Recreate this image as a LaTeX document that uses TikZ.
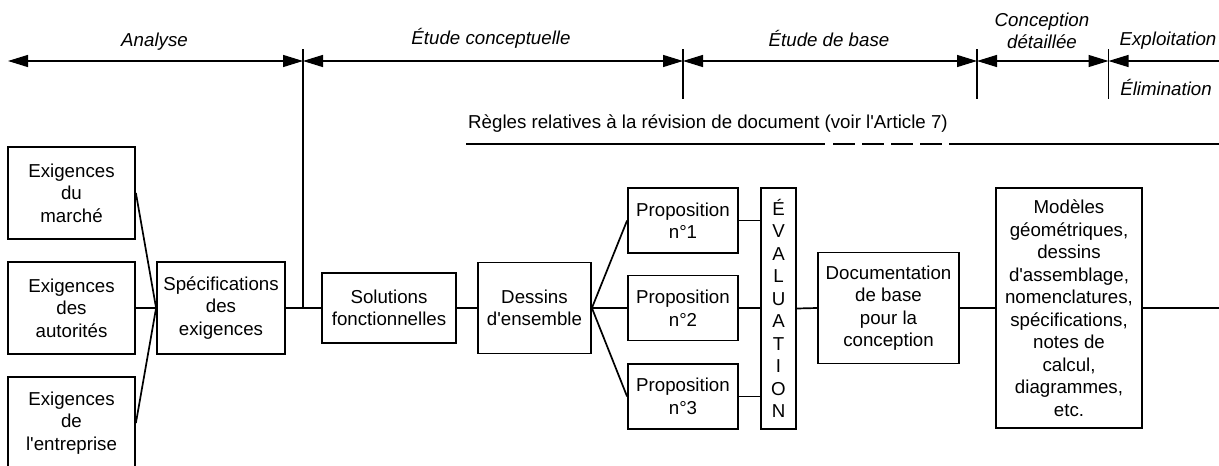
\documentclass[tikz,border=0pt]{standalone}
\usepackage{fontspec}
\setmainfont{Liberation Sans}[Ligatures=TeXOff]
\usetikzlibrary{arrows.meta}
\newcommand\dfont{\fontsize{18.7}{22.5}\selectfont}
\begin{document}
\begin{tikzpicture}[x=1pt,y=-1pt,
  box/.style={draw, line width=1.8pt, inner sep=0pt, align=center, font=\dfont},
  conn/.style={line width=1.7pt},
  tl/.style={line width=1.3pt},
  tk/.style={line width=1.4pt},
  lab/.style={font=\dfont\itshape, inner sep=0pt, align=center, anchor=base},
  tri/.tip={Triangle[length=20pt,width=12pt]},
  revline/.style={line width=1.9pt}]
\useasboundingbox (0,0) rectangle (1219,466);

% timeline
\coordinate (a0) at (8,61);
\coordinate (t1) at (303,61);
\coordinate (t2) at (683,61);
\coordinate (t3) at (977,61);
\coordinate (t4) at (1108.5,61);
\coordinate (a5) at (1219,61);
\coordinate (t1top) at (303,49);
\coordinate (t2top) at (683,49);
\coordinate (t3top) at (977,49);
\coordinate (t4top) at (1108.5,49);
\coordinate (t2bot) at (683,99);
\coordinate (t3bot) at (977,99);
\coordinate (t4bot) at (1108.5,99);

\draw[tl, tri-tri] (a0) -- (t1);
\draw[tl, tri-tri] (t1) -- (t2);
\draw[tl, tri-tri] (t2) -- (t3);
\draw[tl, tri-tri] (t3) -- (t4);
\draw[tl, tri-] (t4) -- (a5);
\draw[tk] (t2top) -- (t2bot);
\draw[tk] (t3top) -- (t3bot);
\draw[tk] (t4top) -- (t4bot);

\node[lab] (lAn) at (154.5,46) {Analyse};
\node[lab] (lEc) at (491,44) {Étude conceptuelle};
\node[lab] (lEb) at (829,46.5) {Étude de base};
\node[lab] (lCo) at (1042,26.5) {Conception};
\node[lab] (lDe) at (1042,48) {détaillée};
\node[lab] (lEx) at (1168,45.5) {Exploitation};
\node[lab] (lEl) at (1166,95) {Élimination};

% revision rules
\node[font=\dfont, inner sep=0pt, anchor=base west] (rev) at (468,128) {Règles relatives à la révision de document (voir l'Article 7)};
\coordinate (r0) at (466,144);
\coordinate (r1) at (825,144);
\coordinate (r2) at (833,144);
\coordinate (r3) at (942,144);
\coordinate (r4) at (949,144);
\coordinate (r5) at (1219,144);
\draw[revline] (r0) -- (r1);
\draw[revline, dash pattern=on 22pt off 7pt] (r2) -- (r3);
\draw[revline] (r4) -- (r5);

% boxes
\node[box, minimum width=127pt, minimum height=92pt] (em) at (71.5,193) {Exigences\\du\\marché};
\node[box, minimum width=127pt, minimum height=92pt] (ea) at (71.5,308) {Exigences\\des\\autorités};
\node[box, minimum width=127pt, minimum height=92pt] (ee) at (71.5,423) {Exigences\\de\\l'entreprise};
\node[box, minimum width=128pt, minimum height=92pt] (spec) at (221,308) {Spécifications\\des\\exigences};
\node[box, minimum width=134pt, minimum height=70pt] (sol) at (389,308) {Solutions\\fonctionnelles};
\node[box, minimum width=113pt, minimum height=91pt] (des) at (534.5,308) {Dessins\\d'ensemble};
\node[box, minimum width=110pt, minimum height=65pt] (p1) at (683,220.5) {Proposition\\n°1};
\node[box, minimum width=110pt, minimum height=65pt] (p2) at (683,308) {Proposition\\n°2};
\node[box, minimum width=110pt, minimum height=65pt] (p3) at (683,396.5) {Proposition\\n°3};
\node[box, minimum width=35pt, minimum height=241pt] (ev) at (778.5,308.5) {É\\V\\A\\L\\U\\A\\T\\I\\O\\N};
\node[box, minimum width=141pt, minimum height=111pt] (doc) at (888.5,308) {Documentation\\de base\\pour la\\conception};
\node[box, minimum width=146pt, minimum height=240pt] (mod) at (1069,308) {Modèles\\géométriques,\\dessins\\d'assemblage,\\nomenclatures,\\spécifications,\\notes de\\calcul,\\diagrammes,\\etc.};
\coordinate (end) at (1219,308);

% connectors
\draw[conn] (em.east) -- (spec.west);
\draw[conn] (ea.east) -- (spec.west);
\draw[conn] (ee.east) -- (spec.west);
\draw[conn] (spec.east) -- (sol.west);
\draw[tk] (t1top) -- (t1top |- spec.east);
\draw[conn] (sol.east) -- (des.west);
\draw[conn] (des.east) -- (p1.west);
\draw[conn] (des.east) -- (p2.west);
\draw[conn] (des.east) -- (p3.west);
\draw[conn] (p1.east) -- (p1.east -| ev.west);
\draw[conn] (p2.east) -- (p2.east -| ev.west);
\draw[conn] (p3.east) -- (p3.east -| ev.west);
\draw[conn] (ev.east) -- (doc.west);
\draw[conn] (doc.east) -- (mod.west);
\draw[conn] (mod.east) -- (end);
\end{tikzpicture}
\end{document}
